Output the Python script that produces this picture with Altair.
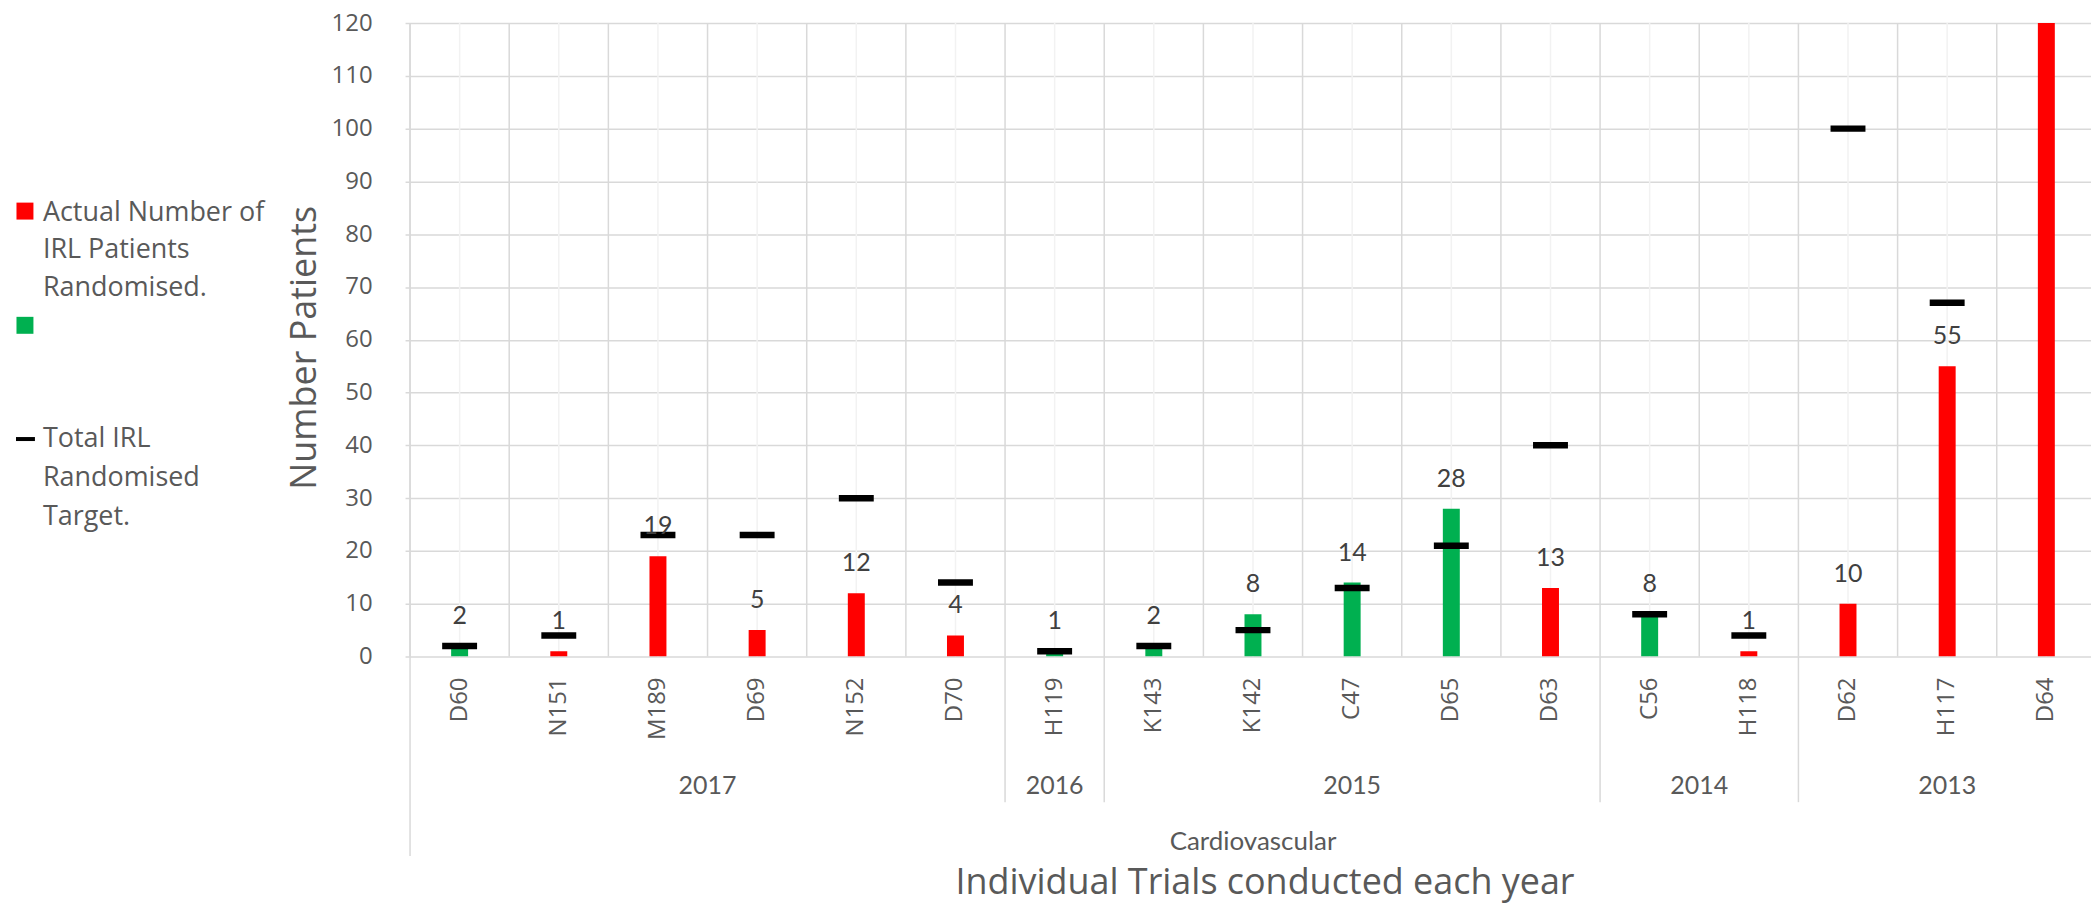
import altair as alt
import pandas as pd

# ---------------- data ----------------
trials = ["D60", "N151", "M189", "D69", "N152", "D70", "H119", "K143", "K142",
          "C47", "D65", "D63", "C56", "H118", "D62", "H117", "D64"]
years = ["2017"] * 6 + ["2016"] + ["2015"] * 5 + ["2014"] * 2 + ["2013"] * 3
actual = [2, 1, 19, 5, 12, 4, 1, 2, 8, 14, 28, 13, 8, 1, 10, 55, 130]
target = [2, 4, 23, 23, 30, 14, 1, 2, 5, 13, 21, 40, 8, 4, 100, 67, None]
bar_colors = ["#00B050", "#FF0000", "#FF0000", "#FF0000", "#FF0000", "#FF0000",
              "#00B050", "#00B050", "#00B050", "#00B050", "#00B050", "#FF0000",
              "#00B050", "#FF0000", "#FF0000", "#FF0000", "#FF0000"]
labels = ["2", "1", "19", "5", "12", "4", "1", "2", "8", "14", "28", "13",
          "8", "1", "10", "55", ""]
y_ticks = list(range(0, 121, 10))
legend_actual = ["Actual Number of", "IRL Patients", "Randomised."]
legend_target = ["Total IRL", "Randomised", "Target."]
group_name = "Cardiovascular"
x_title = "Individual Trials conducted each year"
y_title = "Number Patients"

# ---------------- tables ----------------
df = pd.DataFrame({
    "idx": list(range(len(trials))),
    "trial": trials,
    "year": years,
    "actual": actual,
    "target": target,
    "color": bar_colors,
    "label": labels,
})
df["bound"] = df["idx"] - 0.5
tdf = df.dropna(subset=["target"])

ydf = df.groupby("year", sort=False).agg(mid=("idx", "mean"), first=("idx", "min")).reset_index()
ydf["sep"] = ydf["first"] - 0.5
sep_df = ydf[ydf["first"] > 0]
left_df = ydf[ydf["first"] == 0]
grp_df = pd.DataFrame({"name": [group_name], "mid": [df["idx"].mean()]})

W, H = 1690, 635
TOP = 14
GRAY = "#595959"
SANS = "Open Sans"
NARROW = "Lato"
OFF = 3  # shift of page-positioned items relative to plot top

xs = alt.Scale(domain=[-0.5, 16.4], nice=False, zero=False)
ys = alt.Scale(domain=[0, 120], nice=False)

yaxis = alt.Axis(values=y_ticks, grid=True, gridColor="#d9d9d9", gridWidth=1.5,
                 domain=False, ticks=False, labelPadding=33, labelFont=SANS,
                 labelFontSize=24, labelColor=GRAY, title=y_title, titleFont=SANS,
                 titleFontSize=36, titleFontWeight="normal", titleColor=GRAY,
                 titleX=-101, titleY=328 - OFF, titleAngle=270, titleAlign="center",
                 titleBaseline="middle")

base = alt.Chart(df)

light_grid = base.mark_rule(color="#f2f2f2", strokeWidth=1.5).encode(
    x=alt.X("idx:Q", scale=xs, axis=None), y=alt.value(0), y2=alt.value(H))
dark_grid = base.mark_rule(color="#d9d9d9", strokeWidth=1.5).encode(
    x=alt.X("bound:Q", scale=xs, axis=None), y=alt.value(0), y2=alt.value(H))

bars = base.mark_bar(size=17, clip=True).encode(
    x=alt.X("idx:Q", scale=xs, axis=None),
    y=alt.Y("actual:Q", scale=ys, axis=yaxis),
    color=alt.Color("color:N", scale=None))

targets = alt.Chart(tdf).mark_tick(orient="horizontal", thickness=6.5, size=35,
                                   color="black", opacity=1).encode(
    x=alt.X("idx:Q", scale=xs, axis=None),
    y=alt.Y("target:Q", scale=ys, axis=None))

vlabels = base.mark_text(font=NARROW, fontSize=25, color="#404040",
                         baseline="middle", dy=-30).encode(
    x=alt.X("idx:Q", scale=xs, axis=None),
    y=alt.Y("actual:Q", scale=ys, axis=None),
    text="label:N")

cat_labels = base.mark_text(font=SANS, fontSize=24, color=GRAY, angle=270,
                            align="right", baseline="middle").encode(
    x=alt.X("idx:Q", scale=xs, axis=None), y=alt.value(659 - OFF), text="trial:N")

year_labels = alt.Chart(ydf).mark_text(font=NARROW, fontSize=25, color=GRAY,
                                       baseline="middle").encode(
    x=alt.X("mid:Q", scale=xs, axis=None), y=alt.value(768 - OFF), text="year:N")

seps = alt.Chart(sep_df).mark_rule(color="#d9d9d9", strokeWidth=1.5).encode(
    x=alt.X("sep:Q", scale=xs, axis=None), y=alt.value(H), y2=alt.value(784 - OFF))
left_line = alt.Chart(left_df).mark_rule(color="#d9d9d9", strokeWidth=1.5).encode(
    x=alt.X("sep:Q", scale=xs, axis=None), y=alt.value(0), y2=alt.value(838 - OFF))

grp_label = alt.Chart(grp_df).mark_text(font=NARROW, fontSize=26, color=GRAY,
                                        baseline="middle").encode(
    x=alt.X("mid:Q", scale=xs, axis=None), y=alt.value(824 - OFF), text="name:N")

xt_df = pd.DataFrame({"t": [x_title]})
x_title_mark = alt.Chart(xt_df).mark_text(font=SANS, fontSize=36, color=GRAY,
                                          baseline="middle").encode(
    x=alt.value(862), y=alt.value(865 - OFF), text="t:N")

# legend
leg_a = pd.DataFrame({"t": legend_actual, "row": [0, 1, 2]})
leg_t = pd.DataFrame({"t": legend_target, "row": [0, 1, 2]})
sw_df = pd.DataFrame({"c": ["#FF0000", "#00B050"], "k": ["a", "g"]})

red_sq = alt.Chart(sw_df.iloc[[0]]).mark_square(size=289, filled=True, opacity=1).encode(
    x=alt.value(-381), y=alt.value(191.5 - OFF), color=alt.Color("c:N", scale=None))
green_sq = alt.Chart(sw_df.iloc[[1]]).mark_square(size=289, filled=True, opacity=1).encode(
    x=alt.value(-381), y=alt.value(306 - OFF), color=alt.Color("c:N", scale=None))
dash = alt.Chart(sw_df.iloc[[0]]).mark_rule(color="black", strokeWidth=4).encode(
    x=alt.value(-390), x2=alt.value(-371), y=alt.value(420 - OFF))

leg_text_a = alt.Chart(leg_a).mark_text(font=SANS, fontSize=27, color=GRAY,
                                        align="left", baseline="middle").encode(
    x=alt.value(-363),
    y=alt.Y("row:Q", scale=alt.Scale(domain=[0, 2], range=[193 - OFF, 269 - OFF]), axis=None),
    text="t:N")
leg_text_t = alt.Chart(leg_t).mark_text(font=SANS, fontSize=27, color=GRAY,
                                        align="left", baseline="middle").encode(
    x=alt.value(-363),
    y=alt.Y("row:Q", scale=alt.Scale(domain=[0, 2], range=[420 - OFF, 498 - OFF]), axis=None),
    text="t:N")

chart = alt.layer(
    light_grid, dark_grid, bars, targets, vlabels, cat_labels, year_labels,
    seps, left_line, grp_label, x_title_mark,
    red_sq, green_sq, dash, leg_text_a, leg_text_t
).resolve_scale(y="independent").properties(
    width=W, height=H,
    padding={"left": 398, "top": TOP, "right": 0, "bottom": 248},
    autosize=alt.AutoSizeParams(type="none"),
).configure_view(stroke=None)

chart.save("out.html", embed_options={"renderer": "svg", "actions": False})
